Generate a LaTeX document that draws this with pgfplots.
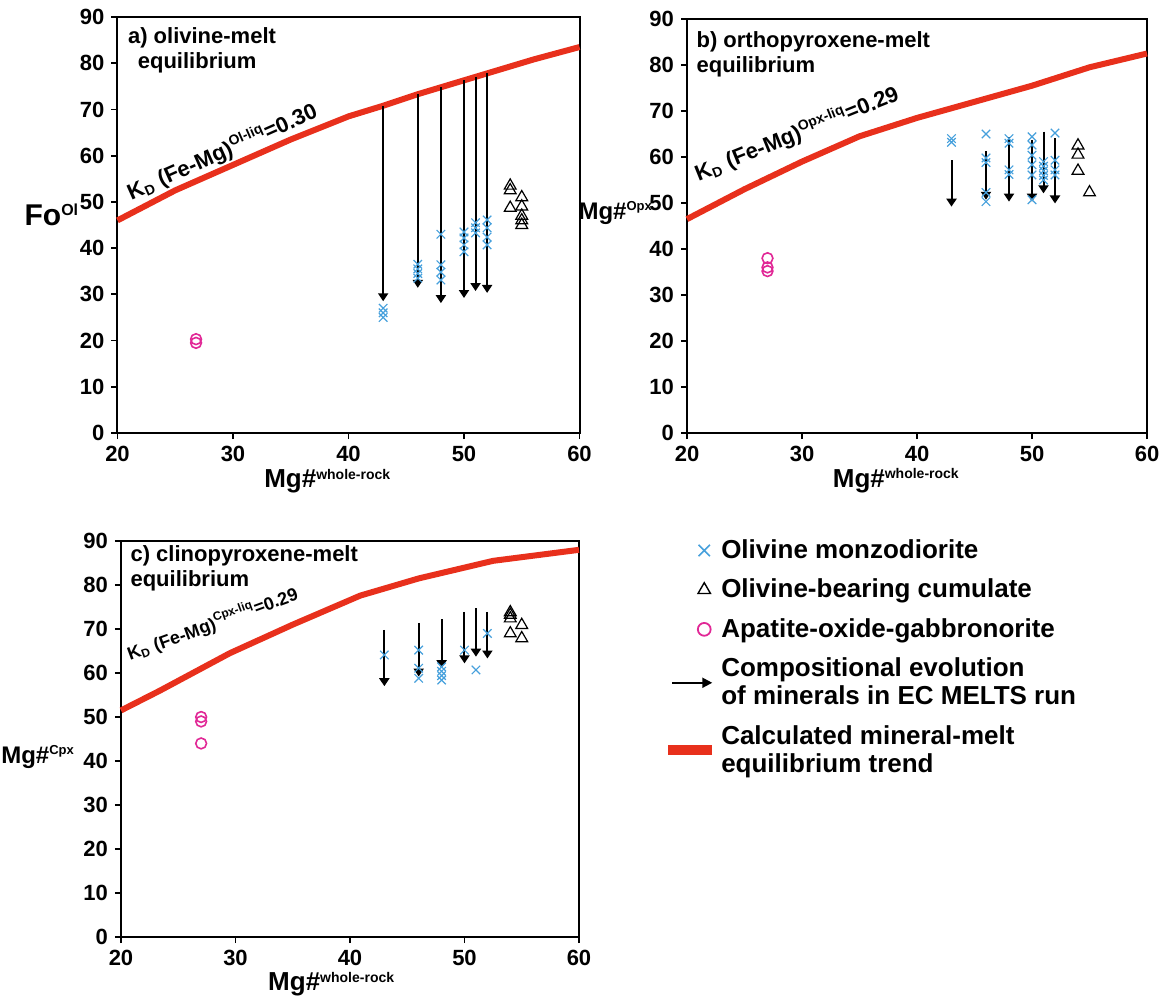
\documentclass[border=0pt]{standalone}
\usepackage{fontspec}
\setmainfont{Liberation Sans}
\usepackage{pgfplots}
\pgfplotsset{compat=1.18}
\usetikzlibrary{arrows.meta}
\definecolor{xblue}{RGB}{70,160,220}
\definecolor{cmag}{RGB}{225,40,150}
\definecolor{kred}{RGB}{232,48,28}
\pgfplotsset{
  myax/.style={scale only axis, anchor=south west, clip=false,
    xmin=20, xmax=60, ymin=0, ymax=90,
    xtick={20,30,...,60}, ytick={0,10,...,90},
    tick align=outside, xtick pos=bottom, ytick pos=left,
    axis line style={line width=1pt},
    major tick length=3pt, tick style={line width=0.9pt, black},
    tick label style={font=\bfseries\fontsize{11}{12}\selectfont},
    /pgf/number format/assume math mode=true},
  cr/.style={only marks, mark=x, xblue, mark size=3pt, line width=0.6pt, forget plot},
  tr/.style={only marks, mark=triangle, black, mark size=3.4pt, line width=0.6pt, forget plot},
  ci/.style={only marks, mark=o, cmag, mark size=2.7pt, line width=0.8pt, forget plot},
  ar/.style={black, line width=1pt, -{Triangle[width=5pt,length=4pt]}, forget plot},
  kd/.style={kred, line width=3pt, forget plot},
}
\tikzset{
  ttl/.style={anchor=north west, align=left, inner sep=0pt, font=\bfseries\fontsize{11}{12.5}\selectfont},
  kdl/.style={inner sep=0pt, font=\bfseries\fontsize{11}{12}\selectfont},
  xl/.style={anchor=base, inner sep=0pt, font=\bfseries\fontsize{13}{13}\selectfont},
  yl/.style={inner sep=0pt, font=\bfseries\fontsize{12}{12}\selectfont},
}
\newcommand{\spx}[2]{\textsuperscript{\fontsize{#1}{#1}\selectfont #2}}
\begin{document}
\begin{tikzpicture}
\useasboundingbox (0,0) rectangle (581.5pt,-498pt);
% ---------------- panel a
\begin{axis}[myax, at={(58.75pt,-216.5pt)}, width=231pt, height=208pt]
\addplot[kd] coordinates {(20,46) (25,52.5) (30,58) (35,63.5) (40,68.5) (43,70.8) (46,73.3) (48,74.8) (50,76.3) (52,77.8) (56,80.8) (60,83.5)};
\addplot[ar] coordinates {(43,70.8) (43,28.5)};
\addplot[ar] coordinates {(46,73.3) (46,31.4)};
\addplot[ar] coordinates {(48,74.8) (48,28.1)};
\addplot[ar] coordinates {(50,76.3) (50,29.2)};
\addplot[ar] coordinates {(51,77.0) (51,30.7)};
\addplot[ar] coordinates {(52,77.8) (52,30.3)};
\addplot[cr] coordinates {(43,25) (43,26) (43,27)
 (46,36.5) (46,35.5) (46,34.5) (46,33.5)
 (48,43) (48,36.4) (48,34.8) (48,33.1)
 (50,43.5) (50,42.2) (50,40.7) (50,39.2)
 (51,45.5) (51,44.4) (51,43.3)
 (52,46.1) (52,44.4) (52,42.4) (52,40.7)};
\addplot[tr] coordinates {(54,53.5) (54,52.5) (54,48.7) (55,51) (55,49) (55,47) (55,46) (55,45)};
\addplot[ci] coordinates {(26.8,19.5) (26.8,20.3)};
\node[ttl] at (rel axis cs:0.022,0.975) {a) olivine-melt\\\ \,equilibrium};
\node[kdl, rotate=24] at (rel axis cs:0.227,0.675) {K\textsubscript{\fontsize{7}{7}\selectfont D} (Fe-Mg)\spx{7}{Ol-liq}=0.30};
\node[inner sep=0pt, font=\bfseries\fontsize{15}{15}\selectfont] at (rel axis cs:-0.142,0.524) {Fo\spx{8}{Ol}};
\node[xl] at (rel axis cs:0.455,-0.132) {Mg\#\spx{7}{whole-rock}};
\end{axis}
% ---------------- panel b
\begin{axis}[myax, at={(343.5pt,-216.5pt)}, width=230pt, height=207pt]
\addplot[kd] coordinates {(20,46.5) (25,53) (30,59) (35,64.5) (40,68.5) (45,72) (50,75.5) (55,79.5) (60,82.5)};
\addplot[ar] coordinates {(43,59.3) (43,49.2)};
\addplot[ar] coordinates {(46,61.2) (46,50.7)};
\addplot[ar] coordinates {(48,64.4) (48,50.3)};
\addplot[ar] coordinates {(50,63.7) (50,50.3)};
\addplot[ar] coordinates {(51,65.5) (51,52.1)};
\addplot[ar] coordinates {(52,64.1) (52,49.9)};
\addplot[cr] coordinates {(43,63.2) (43,64)
 (46,65) (46,59.8) (46,58.8) (46,52.3) (46,50.3)
 (48,64) (48,63) (48,57.2) (48,56.2)
 (50,64.4) (50,62.6) (50,60.4) (50,58.3) (50,56.1) (50,50.7)
 (51,59) (51,58) (51,57) (51,56) (51,55)
 (52,65.2) (52,59.3) (52,57.2) (52,56.1)};
\addplot[tr] coordinates {(54,62.5) (54,60.5) (54,57) (55,52.3)};
\addplot[ci] coordinates {(27,38) (27,36) (27,35.2)};
\node[ttl] at (rel axis cs:0.02,0.97) {b) orthopyroxene-melt\\equilibrium};
\node[kdl, rotate=22] at (rel axis cs:0.239,0.722) {K\textsubscript{\fontsize{7}{7}\selectfont D} (Fe-Mg)\spx{7}{Opx-liq}=0.29};
\node[yl] at (rel axis cs:-0.155,0.531) {Mg\#\spx{6.5}{Opx}};
\node[xl] at (rel axis cs:0.455,-0.132) {Mg\#\spx{7}{whole-rock}};
\end{axis}
% ---------------- panel c
\begin{axis}[myax, at={(60.5pt,-468.5pt)}, width=229pt, height=198pt,
  legend style={at={(rel axis cs:1.17,1.025)}, anchor=north west, draw=none, fill=none,
    font=\bfseries\fontsize{13}{14}\selectfont, row sep=4.8pt, column sep=0pt,
    cells={align=left}},
  legend cell align=left]
\addlegendimage{legend image code/.code={\draw[xblue, line width=0.8pt] plot[mark=x, mark size=4pt] coordinates {(-4pt,0pt)};}}
\addlegendentry{Olivine monzodiorite}
\addlegendimage{legend image code/.code={\draw[black, line width=0.7pt] plot[mark=triangle, mark size=3.6pt] coordinates {(-4pt,0pt)};}}
\addlegendentry{Olivine-bearing cumulate}
\addlegendimage{legend image code/.code={\draw[cmag, line width=0.9pt] plot[mark=o, mark size=3.2pt] coordinates {(-4pt,0pt)};}}
\addlegendentry{Apatite-oxide-gabbronorite}
\addlegendimage{legend image code/.code={\draw[black, line width=1pt, -{Triangle[width=5pt,length=5pt]}] (-20pt,0pt) -- (0pt,0pt);}}
\addlegendentry{Compositional evolution\\of minerals in EC MELTS run}
\addlegendimage{legend image code/.code={\draw[kred, line width=5pt] (-22pt,0pt) -- (0pt,0pt);}}
\addlegendentry{Calculated mineral-melt\\equilibrium trend}
\addplot[kd] coordinates {(20,51.5) (23.4,56) (29.5,64.5) (35,71) (40.9,77.6) (46,81.5) (52.5,85.5) (60,88)};
\addplot[ar] coordinates {(43,69.8) (43,57.0)};
\addplot[ar] coordinates {(46,71.4) (46,59.2)};
\addplot[ar] coordinates {(48,72.2) (48,61.1)};
\addplot[ar] coordinates {(50,73.9) (50,62.2)};
\addplot[ar] coordinates {(51,74.7) (51,63.7)};
\addplot[ar] coordinates {(52,73.9) (52,63.3)};
\addplot[cr] coordinates {(43,64.1) (46,65.2) (46,61.1) (46,58.8)
 (48,61.4) (48,60.4) (48,59.4) (48,58.4) (50,65.2) (51,60.7) (52,69)};
\addplot[tr] coordinates {(54,73.8) (54,73.2) (54,72.4) (54,69) (55,70.9) (55,67.9)};
\addplot[ci] coordinates {(27,50) (27,49) (27,44)};
\node[ttl] at (rel axis cs:0.02,0.99) {c) clinopyroxene-melt\\equilibrium};
\node[kdl, rotate=20, font=\bfseries\fontsize{9}{11}\selectfont] at (rel axis cs:0.2,0.79) {K\textsubscript{\fontsize{6}{6}\selectfont D} (Fe-Mg)\spx{6}{Cpx-liq}=0.29};
\node[yl] at (rel axis cs:-0.181,0.455) {Mg\#\spx{6.5}{Cpx}};
\node[xl] at (rel axis cs:0.46,-0.136) {Mg\#\spx{7}{whole-rock}};
\end{axis}
\end{tikzpicture}
\end{document}
